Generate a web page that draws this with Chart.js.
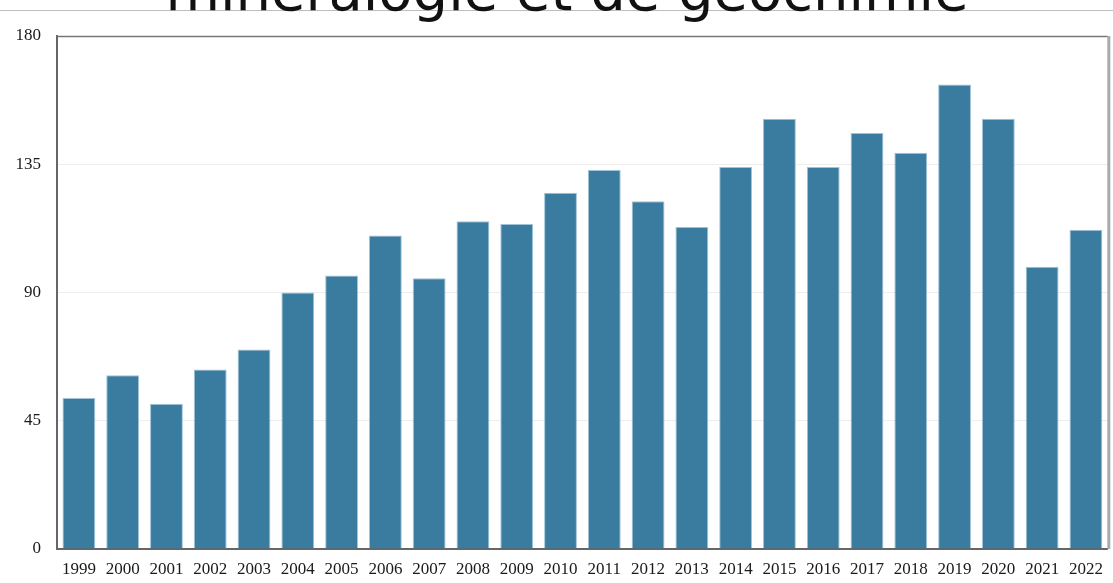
<!DOCTYPE html>
<html>
<head>
<meta charset="utf-8">
<script src="https://cdn.jsdelivr.net/npm/chart.js@4"></script>
<style>
  html, body { margin: 0; padding: 0; background: #fff; overflow: hidden; }
  #wrap { position: relative; width: 1113px; height: 583px; }
  #topline { position: absolute; left: 0; top: 10px; width: 1113px; height: 1px; background: #bdbdbd; }
  #title { position: absolute; top: -37px; left: 567px; transform: translateX(-50%); white-space: nowrap;
           font-family: "DejaVu Sans", sans-serif; font-size: 56px; line-height: 56px; color: #111; }
  canvas { position: absolute; left: 0; top: 0; }
</style>
</head>
<body>
<div id="wrap">
  <canvas id="c" width="1113" height="583"></canvas>
  <div id="topline"></div>
  <div id="title">minéralogie et de géochimie</div>
</div>
<script>
const categories = ["1999","2000","2001","2002","2003","2004","2005","2006","2007","2008","2009","2010","2011","2012","2013","2014","2015","2016","2017","2018","2019","2020","2021","2022"];
const values = [53, 61, 51, 63, 70, 90, 96, 110, 95, 115, 114, 125, 133, 122, 113, 134, 151, 134, 146, 139, 163, 151, 99, 112];
const yTicks = [0, 45, 90, 135, 180];

const framePlugin = {
  id: 'frame',
  afterDraw(chart) {
    const a = chart.chartArea, ctx = chart.ctx;
    ctx.save();
    ctx.strokeStyle = '#777';
    ctx.lineWidth = 1.5;
    ctx.beginPath();
    ctx.moveTo(a.left, a.top + 0.5);
    ctx.lineTo(a.right, a.top + 0.5);
    ctx.stroke();
    ctx.strokeStyle = '#aaa';
    ctx.lineWidth = 3;
    ctx.beginPath();
    ctx.moveTo(a.right + 1, a.top);
    ctx.lineTo(a.right + 1, a.bottom);
    ctx.stroke();
    ctx.restore();
  }
};

new Chart(document.getElementById('c'), {
  type: 'bar',
  data: {
    labels: categories,
    datasets: [{
      data: values,
      backgroundColor: '#3a7ca0',
      borderColor: 'rgba(120,170,200,0.7)',
      borderWidth: 1,
      categoryPercentage: 1,
      barPercentage: 0.75
    }]
  },
  plugins: [framePlugin],
  options: {
    responsive: false,
    animation: false,
    layout: { padding: { top: 36, right: 4, left: 0, bottom: 0 } },
    plugins: { legend: { display: false }, tooltip: { enabled: false }, title: { display: false } },
    scales: {
      x: {
        grid: { display: false, drawTicks: false },
        border: { display: true, color: '#666', width: 2 },
        ticks: { color: '#1a1a1a', font: { family: '"Liberation Serif", serif', size: 17 }, padding: 10, maxRotation: 0, autoSkip: false },
        afterFit(s) { s.height = 34; }
      },
      y: {
        min: 0, max: 180,
        afterBuildTicks(s) { s.ticks = yTicks.map(v => ({ value: v })); },
        grid: { color: '#eeeeee', drawTicks: false },
        border: { display: true, color: '#666', width: 2 },
        ticks: { color: '#1a1a1a', font: { family: '"Liberation Serif", serif', size: 17 }, padding: 16 },
        afterFit(s) { s.width = 57; }
      }
    }
  }
});
</script>
</body>
</html>
